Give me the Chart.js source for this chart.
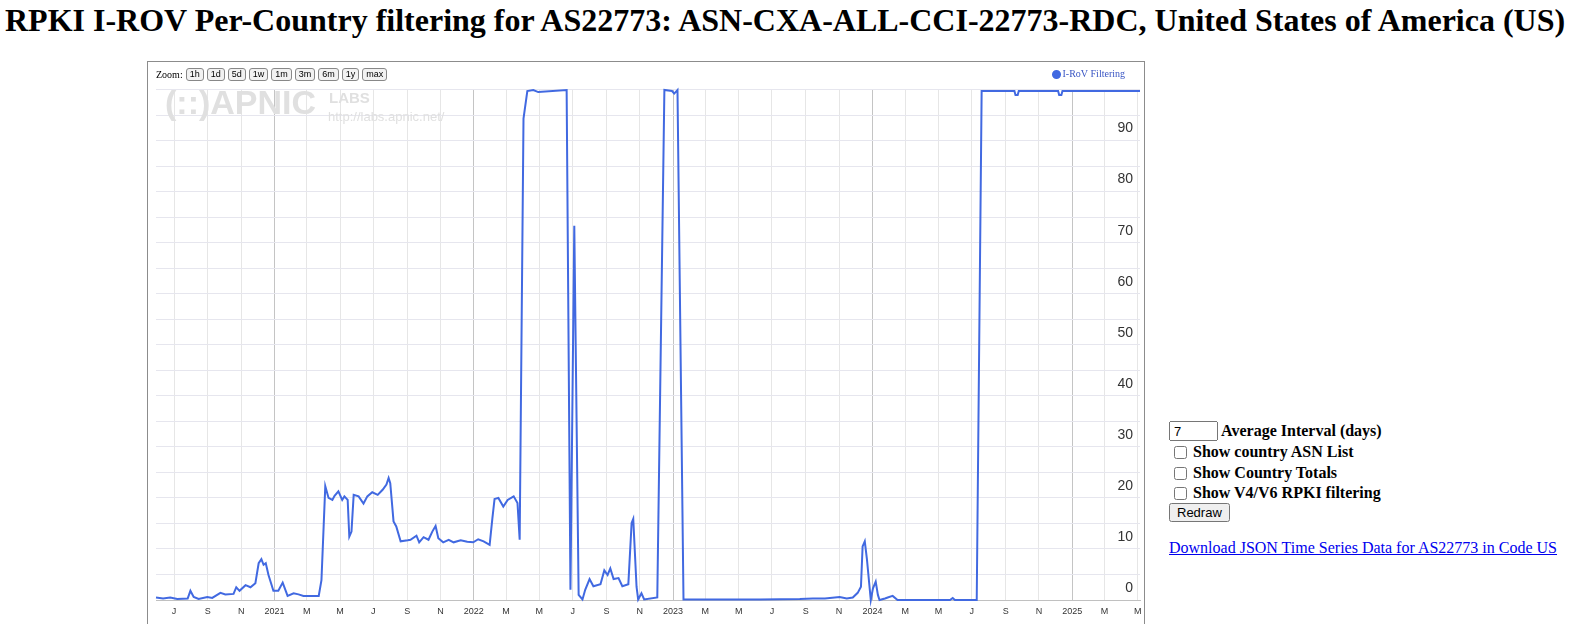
<!DOCTYPE html>
<html>
<head>
<meta charset="utf-8">
<script src="https://cdn.jsdelivr.net/npm/chart.js@4.4.1/dist/chart.umd.min.js"></script>
<style>
  body { margin: 0; background: #fff; overflow: hidden; width: 1579px; height: 624px; position: relative; }
  h1 { position: absolute; left: 5px; top: 4px; margin: 0; font: bold 32px/32px 'Liberation Serif', 'Times New Roman', serif; white-space: nowrap; }
  #frame { position: absolute; left: 147px; top: 61px; width: 998px; height: 620px; border: 1px solid #8c8c8c; box-sizing: border-box; overflow: hidden; }
  #chart { position: absolute; left: 0; top: 0; }
  #zoombar { position: absolute; left: 8px; top: 6px; font: 10px 'Liberation Serif', serif; color: #000; display: flex; align-items: center; }
  #zoombar span.b { display: inline-block; border: 1px solid #888; border-radius: 3px; background: #f2f2f2; font: 9px 'Liberation Sans', Arial, sans-serif; height: 11px; line-height: 11px; padding: 0 3px; margin-left: 3px; }
  .wm { position: absolute; color: #e0e0e0; font-family: 'Liberation Sans', Arial, sans-serif; pointer-events: none; white-space: nowrap; }
  .ctl { position: absolute; font: bold 16px/20px 'Liberation Serif', 'Times New Roman', serif; white-space: nowrap; }
  .ctl input[type=checkbox] { margin: 0; width: 13px; height: 13px; position: absolute; left: 5px; top: 4px; }
  a { color: #0000ee; }
</style>
</head>
<body>
<h1>RPKI I-ROV Per-Country filtering for AS22773: ASN-CXA-ALL-CCI-22773-RDC, United States of America (US)</h1>

<div id="frame">
  <canvas id="chart" width="1012" height="562"></canvas>
  <div id="zoombar">Zoom:<span class="b">1h</span><span class="b">1d</span><span class="b">5d</span><span class="b">1w</span><span class="b">1m</span><span class="b">3m</span><span class="b">6m</span><span class="b">1y</span><span class="b">max</span></div>
  <div class="wm" style="left:17px; top:21px; font-weight:bold; font-size:34px;">(::)APNIC</div>
  <div class="wm" style="left:181px; top:27px; font-weight:bold; font-size:15px;">LABS</div>
  <div class="wm" style="left:180px; top:47px; font-size:13px;">http://labs.apnic.net/</div>
</div>

<div class="ctl" style="left:1169px; top:421px;"><input type="text" value="7" style="width:49px; height:20px; box-sizing:border-box; font:13px Arial, sans-serif; padding:1px 3px; vertical-align:top; margin:0;"> Average Interval (days)</div>
<div class="ctl" style="left:1169px; top:442px; padding-left:24px;"><input type="checkbox">Show country ASN List</div>
<div class="ctl" style="left:1169px; top:463px; padding-left:24px;"><input type="checkbox">Show Country Totals</div>
<div class="ctl" style="left:1169px; top:483px; padding-left:24px;"><input type="checkbox">Show V4/V6 RPKI filtering</div>
<div class="ctl" style="left:1169px; top:502px;"><button style="font:13px Arial, sans-serif; height:19px; padding:0 6px; margin:0;">Redraw</button></div>
<div class="ctl" style="left:1169px; top:538px; font-weight:normal;"><a href="#">Download JSON Time Series Data for AS22773 in Code US</a></div>

<script>
// weekly averaged I-RoV filtering share (%)
const dates = [
  '2020-05-29', '2020-06-11', '2020-06-24', '2020-07-07', '2020-07-26', '2020-07-31', '2020-08-06', '2020-08-15',
  '2020-08-31', '2020-09-09', '2020-09-24', '2020-10-03', '2020-10-18', '2020-10-23', '2020-10-29', '2020-11-09',
  '2020-11-18', '2020-11-27', '2020-12-03', '2020-12-08', '2020-12-12', '2020-12-16', '2020-12-21', '2020-12-30',
  '2021-01-08', '2021-01-16', '2021-01-25', '2021-02-05', '2021-02-14', '2021-02-23', '2021-03-23', '2021-03-28',
  '2021-04-01', '2021-04-04', '2021-04-10', '2021-04-17', '2021-04-21', '2021-04-28', '2021-05-05', '2021-05-09',
  '2021-05-15', '2021-05-18', '2021-05-22', '2021-05-26', '2021-06-04', '2021-06-13', '2021-06-20', '2021-06-29',
  '2021-07-09', '2021-07-18', '2021-07-25', '2021-07-29', '2021-08-01', '2021-08-07', '2021-08-12', '2021-08-20',
  '2021-09-02', '2021-09-07', '2021-09-18', '2021-09-23', '2021-10-01', '2021-10-10', '2021-10-17', '2021-10-23',
  '2021-10-28', '2021-11-06', '2021-11-16', '2021-11-25', '2021-12-08', '2021-12-20', '2021-12-31', '2022-01-09',
  '2022-01-19', '2022-01-30', '2022-02-04', '2022-02-08', '2022-02-15', '2022-02-24', '2022-03-04', '2022-03-15',
  '2022-03-22', '2022-03-26', '2022-04-02', '2022-04-09', '2022-04-20', '2022-04-29', '2022-06-20', '2022-06-27',
  '2022-07-04', '2022-07-12', '2022-07-19', '2022-07-24', '2022-08-01', '2022-08-08', '2022-08-21', '2022-08-28',
  '2022-09-03', '2022-09-08', '2022-09-14', '2022-09-23', '2022-09-30', '2022-10-11', '2022-10-17', '2022-10-20',
  '2022-10-26', '2022-10-29', '2022-11-04', '2022-11-09', '2022-12-03', '2022-12-16', '2022-12-30', '2023-01-03',
  '2023-01-09', '2023-01-20', '2023-06-09', '2023-08-21', '2023-09-14', '2023-10-06', '2023-11-02', '2023-11-15',
  '2023-11-26', '2023-12-05', '2023-12-11', '2023-12-14', '2023-12-18', '2023-12-22', '2023-12-29', '2024-01-02',
  '2024-01-07', '2024-01-11', '2024-01-14', '2024-01-24', '2024-01-29', '2024-02-07', '2024-02-16', '2024-05-22',
  '2024-05-27', '2024-05-31', '2024-07-10', '2024-07-19', '2024-09-17', '2024-09-19', '2024-09-23', '2024-09-25',
  '2024-12-06', '2024-12-08', '2024-12-12', '2024-12-14', '2025-05-05'
];
const values = [
  0.5, 0.3, 0.5, 0.2, 0.3, 1.8, 0.6, 0.2,
  0.6, 0.4, 1.4, 1.1, 1.2, 2.5, 1.8, 2.9,
  2.5, 3.3, 7.2, 8.0, 6.9, 7.2, 4.9, 1.8,
  1.8, 3.4, 0.8, 1.3, 1.1, 0.8, 0.8, 3.9,
  14.4, 22.3, 20.0, 19.6, 20.4, 21.3, 19.6, 20.3,
  19.6, 12.4, 13.4, 20.6, 20.3, 18.9, 20.3, 21.1,
  20.6, 21.6, 22.6, 23.9, 22.9, 15.4, 14.4, 11.5,
  11.7, 11.8, 12.6, 11.3, 12.3, 11.8, 13.4, 14.5,
  12.1, 11.3, 11.8, 11.3, 11.7, 11.4, 11.3, 11.9,
  11.5, 10.8, 16.0, 19.8, 20.0, 18.3, 19.6, 20.3,
  19.0, 11.8, 94.3, 99.7, 99.9, 99.5, 99.9, 2.0,
  73.3, 1.0, 0.1, 2.0, 4.1, 2.7, 3.1, 5.8,
  4.9, 6.2, 4.1, 4.3, 2.7, 3.1, 15.1, 15.9,
  2.6, 0.1, 1.3, 0.1, 0.5, 99.9, 99.7, 99.2,
  99.9, 0.1, 0.1, 0.2, 0.3, 0.3, 0.6, 0.3,
  0.5, 1.4, 2.6, 10.5, 11.5, 7.9, 0.0, 2.3,
  3.6, 1.0, 0.0, 0.3, 0.5, 0.8, 0.0, 0.0,
  0.4, 0.0, 0.0, 99.7, 99.7, 98.9, 98.9, 99.7,
  99.7, 98.9, 98.9, 99.7, 99.7
];

// x axis: a tick every second month, year shown in January
const tickDates = [
  '2020-07-01', '2020-09-01', '2020-11-01', '2021-01-01', '2021-03-01', '2021-05-01',
  '2021-07-01', '2021-09-01', '2021-11-01', '2022-01-01', '2022-03-01', '2022-05-01',
  '2022-07-01', '2022-09-01', '2022-11-01', '2023-01-01', '2023-03-01', '2023-05-01',
  '2023-07-01', '2023-09-01', '2023-11-01', '2024-01-01', '2024-03-01', '2024-05-01',
  '2024-07-01', '2024-09-01', '2024-11-01', '2025-01-01', '2025-03-01', '2025-05-01'
];
const tickLabels = [
  'J', 'S', 'N', '2021', 'M', 'M',
  'J', 'S', 'N', '2022', 'M', 'M',
  'J', 'S', 'N', '2023', 'M', 'M',
  'J', 'S', 'N', '2024', 'M', 'M',
  'J', 'S', 'N', '2025', 'M', 'M'
];
const xStart = '2020-05-29';
const xEnd = '2025-05-05';

const lineColor = '#4169e1';

const ctx = document.getElementById('chart').getContext('2d');
new Chart(ctx, {
    type: 'line',
    data: {
        datasets: [{
            label: 'I-RoV Filtering',
            data: dates.map((d, i) => ({ x: Date.parse(d), y: values[i] })),
            borderColor: lineColor,
            backgroundColor: lineColor,
            borderWidth: 2,
            pointRadius: 0,
            pointStyle: 'circle',
            tension: 0,
            clip: false
        }]
    },
    options: {
        responsive: false,
        animation: false,
        events: [],
        layout: { padding: { left: 8, right: 20, top: -7.5, bottom: 0 } },
        plugins: {
            tooltip: { enabled: false },
            legend: {
                position: 'top',
                align: 'end',
                labels: {
                    usePointStyle: true,
                    boxWidth: 2,
                    boxHeight: 5,
                    padding: 15,
                    color: '#3a56c4',
                    font: { family: "'Liberation Serif', 'Times New Roman', serif", size: 10 }
                }
            }
        },
        scales: {
            x: {
                type: 'linear',
                min: Date.parse(xStart),
                max: Date.parse(xEnd),
                afterBuildTicks: axis => {
                    axis.ticks = tickDates.map(d => ({ value: Date.parse(d) }));
                },
                afterFit: scale => { scale.height = 24; },
                ticks: {
                    autoSkip: false,
                    maxRotation: 0,
                    padding: 6,
                    color: '#333',
                    font: { family: "'Liberation Sans', Arial, sans-serif", size: 9 },
                    callback: (value, index) => tickLabels[index]
                },
                grid: {
                    drawTicks: false,
                    color: c => (tickLabels[c.index] || '').length === 4 ? '#c4c4c4' : '#e6e6e6'
                },
                border: { color: '#c0c0c0', width: 1 }
            },
            y: {
                position: 'right',
                min: 0,
                max: 100,
                afterFit: scale => { scale.width = 0; },
                ticks: {
                    stepSize: 5,
                    mirror: true,
                    padding: -7,
                    labelOffset: -12,
                    color: '#333',
                    font: { family: "'Liberation Sans', Arial, sans-serif", size: 14 },
                    callback: v => (v % 10 === 0 && v < 100) ? String(v) : ''
                },
                grid: { drawTicks: false, color: '#e6e6ee' },
                border: { display: false }
            }
        }
    }
});
</script>
</body>
</html>
